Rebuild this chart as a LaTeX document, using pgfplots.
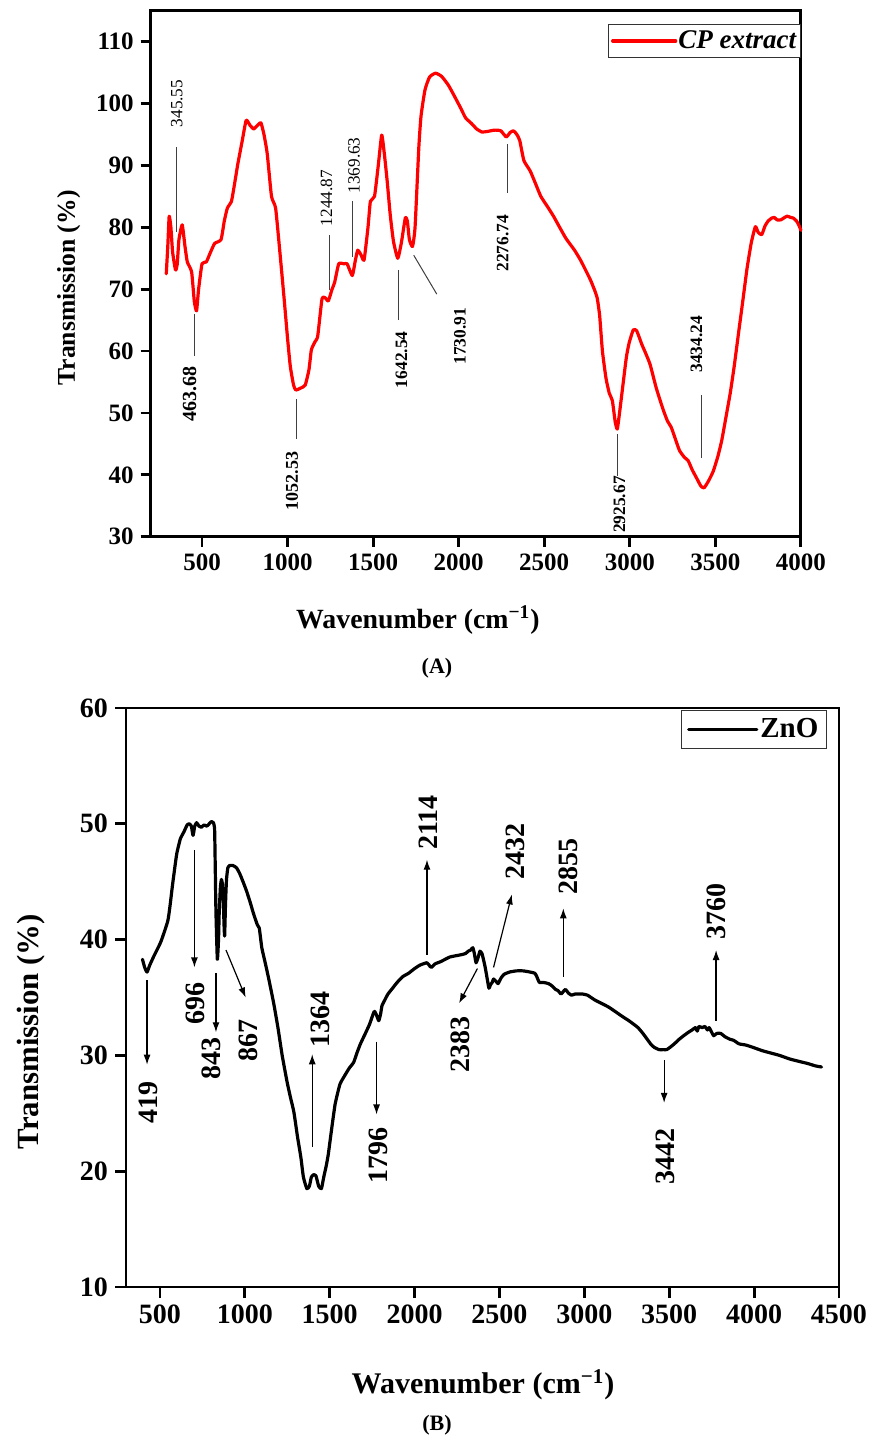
\documentclass[border=0pt]{standalone}
\usepackage{fontspec}
\setmainfont{Liberation Serif}
\usepackage{pgfplots}
\pgfplotsset{compat=1.18}
\usetikzlibrary{arrows.meta}

% FTIR spectrum of the CP extract
\pgfplotstableread{
x y
291 72.5
300 77
308 81.8
318 80
328 76
345 73.1
355 74
365 78
384 80.4
400 77
414 74.4
439 72.8
455 68
468 66.5
480 70
500 74.1
525 74.4
550 76
574 77.4
611 78.0
630 81
648 83.1
672 84.2
690 87
709 90.2
735 94
758 97.3
780 96.5
802 95.9
825 96.5
844 96.9
862 95
881 91.9
906 85.0
930 83.1
955 76
980 68.4
1000 62
1016 57.5
1035 54.5
1048 53.7
1075 54
1103 54.5
1125 57
1139 60.2
1160 61.5
1176 62.4
1201 68.4
1220 68.6
1238 68.1
1260 70
1275 71.1
1299 74.1
1330 74.1
1348 74.1
1378 72.2
1395 74.5
1410 76.3
1430 75.5
1447 74.7
1470 80
1484 84.2
1508 85.0
1530 90
1550 94.9
1565 92
1582 87.5
1600 82
1619 77.7
1644 75.0
1665 77.5
1688 81.5
1700 81
1712 78
1730 76.9
1745 80
1767 92.9
1780 98
1803 102.2
1830 104.3
1865 104.9
1900 104.4
1939 103.0
1975 101.2
2013 99.2
2040 97.7
2074 96.8
2105 95.9
2136 95.4
2170 95.5
2209 95.7
2246 95.6
2278 94.6
2300 95.3
2320 95.6
2340 95
2357 94.0
2381 90.8
2418 89.1
2450 87
2480 85.0
2520 83.3
2554 81.8
2590 80
2627 78.2
2677 76.3
2710 74.8
2738 73.3
2770 71.5
2795 69.8
2810 68.5
2824 65.7
2840 60
2861 55.6
2880 53.2
2898 52
2915 48.5
2927 47.4
2940 50
2959 54.3
2980 59
2996 61.3
3020 63.4
3040 63.3
3070 61.1
3095 59.5
3119 57.8
3155 54
3193 50.7
3220 48.7
3242 47.7
3270 45.5
3291 43.9
3320 42.8
3341 42.3
3365 40.8
3390 39.5
3415 38.2
3434 37.9
3460 39
3488 40.6
3515 43
3537 45.5
3560 49
3587 53.2
3610 57.5
3636 63.0
3660 68
3685 73.3
3710 77.5
3734 80.1
3750 79.2
3771 78.8
3790 80.2
3808 81.0
3830 81.5
3845 81.6
3860 81.2
3882 81.2
3900 81.5
3919 81.8
3940 81.6
3955 81.5
3975 81
3992 80.1
4000 79.5
}\cpdata

% FTIR spectrum of the ZnO nanoparticles
\pgfplotstableread{
x y
397 38.3
410 37.6
424 37.2
440 37.8
465 38.6
505 39.8
546 41.6
560 43
573 44.6
590 46.5
600 47.5
620 48.7
641 49.3
660 49.9
673 50.0
685 49.8
695 49.0
705 49.8
716 50.1
730 49.8
743 49.7
760 49.9
776 49.8
790 50.0
803 50.2
815 50.1
822 49.5
826 46
830 42.3
838 38.3
845 40
849 42.3
856 44.5
862 45.2
868 44.8
873 43.6
877 41.5
881 40.3
886 43
892 45.2
900 46.2
911 46.4
930 46.4
951 46.2
970 45.7
992 44.9
1010 44.2
1032 43.2
1050 42.3
1073 41.3
1085 41
1100 39.3
1120 38
1141 36.6
1170 34.5
1195 32.4
1220 30
1249 27.7
1270 26.3
1289 25.1
1310 23
1330 21.2
1345 19.5
1365 18.5
1380 18.7
1392 19.5
1405 19.7
1419 19.6
1435 18.7
1451 18.5
1465 19.5
1480 20.5
1492 21.5
1510 23.5
1532 25.8
1560 27.5
1586 28.2
1615 28.9
1641 29.4
1660 30.2
1681 31.0
1710 31.9
1735 32.7
1762 33.8
1775 33.5
1789 33.0
1800 33.6
1808 34.3
1825 34.8
1843 35.3
1870 35.8
1897 36.3
1930 36.8
1965 37.1
2000 37.5
2032 37.8
2073 38.0
2090 37.7
2100 37.6
2120 37.9
2154 38.1
2180 38.3
2208 38.5
2240 38.6
2276 38.7
2300 38.8
2316 39.0
2330 39.1
2343 39.3
2352 38.8
2362 38.0
2375 38.5
2385 39.0
2397 38.8
2407 38.2
2416 37.6
2428 36.6
2438 35.8
2447 36.1
2457 36.3
2465 36.6
2473 36.5
2485 36.3
2492 36.2
2510 36.7
2527 37.0
2559 37.2
2600 37.3
2640 37.3
2680 37.2
2708 37.1
2720 36.8
2735 36.3
2760 36.3
2789 36.2
2810 36.0
2830 35.7
2845 35.6
2862 35.3
2875 35.5
2889 35.7
2905 35.4
2924 35.2
2945 35.3
2965 35.3
2990 35.3
3019 35.2
3060 34.8
3100 34.5
3140 34.2
3181 33.8
3220 33.4
3262 33.0
3290 32.7
3316 32.4
3345 31.9
3370 31.4
3390 31.0
3411 30.7
3440 30.5
3465 30.5
3485 30.5
3505 30.7
3530 31.0
3559 31.4
3585 31.7
3613 32.0
3635 32.2
3654 32.4
3665 32.1
3675 32.5
3694 32.4
3710 32.5
3725 32.2
3735 32.4
3750 32.0
3762 31.7
3780 31.9
3803 31.9
3830 31.6
3857 31.4
3880 31.3
3911 31.0
3950 30.9
3992 30.7
4050 30.4
4100 30.2
4150 30.0
4208 29.7
4260 29.5
4316 29.3
4360 29.1
4397 29.0
}\znodata

\pgfplotsset{
  ftir/.style={
    scale only axis, anchor=south west, enlargelimits=false, clip=false,
    axis line style={line width=1.4pt},
    tick align=outside, xtick pos=bottom, ytick pos=left,
    major tick style={line width=1.4pt, black},
    /pgf/number format/assume math mode=true,
    /pgf/number format/1000 sep={},
    legend cell align=left,
  },
  spectrum/.style={line width=1.6pt, smooth, tension=0.3, line join=round, line cap=round},
}

\begin{document}
\begin{tikzpicture}
\useasboundingbox (0,0) rectangle (436.5pt,-720.5pt);

% ---------------- (A) CP extract ----------------
\begin{axis}[ftir,
  at={(75.35pt,-268.35pt)}, width=325.1pt, height=263pt,
  xmin=200, xmax=4000, ymin=30, ymax=115,
  xtick={500,1000,...,4000}, ytick={30,40,...,110},
  major tick length=5pt,
  ticklabel style={font=\bfseries\fontsize{12.5}{13}\selectfont},
  xlabel={Wavenumber (cm\textsuperscript{−1})},
  ylabel={Transmission (\%)},
  xlabel style={at={(axis description cs:0.411,-0.158)}, anchor=center,
    font=\bfseries\fontsize{13.9}{15}\selectfont},
  ylabel style={at={(axis description cs:-0.126,0.473)}, anchor=center,
    font=\bfseries\fontsize{12.8}{14}\selectfont},
  legend style={at={(1,0.975)}, anchor=north east, draw=black!80,
    line width=0.5pt, inner xsep=1.5pt, inner ysep=2.5pt,
    font=\bfseries\itshape\fontsize{13.5}{14}\selectfont,
    nodes={inner sep=0.6pt}},
  legend image code/.code={\draw[#1, line width=1.6pt] (0pt,0pt) -- (31.5pt,0pt);},
]
\addplot[red, spectrum] table[x=x, y=y] {\cpdata};
\addlegendentry{CP extract}

\begin{scope}[black!75, line width=0.5pt]
  \draw (axis cs:352,79.3) -- (axis cs:352,92.9);
  \draw (axis cs:456,59.2) -- (axis cs:456,66.0);
  \draw (axis cs:1053,45.8) -- (axis cs:1053,52.3);
  \draw (axis cs:1243,69.8) -- (axis cs:1243,78.8);
  \draw (axis cs:1378,75.2) -- (axis cs:1378,84.2);
  \draw (axis cs:1646,65.0) -- (axis cs:1646,73.1);
  \draw (axis cs:1737,75.5) -- (axis cs:1872,69.2);
  \draw (axis cs:2283,85.6) -- (axis cs:2283,93.5);
  \draw (axis cs:2930,39.8) -- (axis cs:2930,46.6);
  \draw (axis cs:3422,42.8) -- (axis cs:3422,52.9);
\end{scope}
\begin{scope}[every node/.style={rotate=90, anchor=center, inner sep=0pt,
    font=\fontsize{8.6}{9}\selectfont}]
  \node at (axis cs:352,100.0) {345.55};
  \node[font=\bfseries\fontsize{10}{10}\selectfont] at (axis cs:428,53.0) {463.68};
  \node[font=\bfseries\fontsize{9}{10}\selectfont] at (axis cs:1026,39.0) {1052.53};
  \node at (axis cs:1228,84.7) {1244.87};
  \node at (axis cs:1388,90.0) {1369.63};
  \node[font=\bfseries\fontsize{8.7}{10}\selectfont] at (axis cs:1665,58.6) {1642.54};
  \node[font=\bfseries\fontsize{8.7}{10}\selectfont] at (axis cs:2007,62.4) {1730.91};
  \node[font=\bfseries\fontsize{8.7}{10}\selectfont] at (axis cs:2258,77.4) {2276.74};
  \node[font=\bfseries\fontsize{8.7}{10}\selectfont] at (axis cs:2940,35.2) {2925.67};
  \node[font=\bfseries\fontsize{8.7}{10}\selectfont] at (axis cs:3390,61.1) {3434.24};
\end{scope}
\end{axis}
\node[font=\bfseries\fontsize{11}{12}\selectfont] at (218.5pt,-334pt) {(A)};

% ---------------- (B) ZnO ----------------
\begin{axis}[ftir,
  at={(63pt,-643.5pt)}, width=356.5pt, height=289.5pt,
  xmin=300, xmax=4500, ymin=10, ymax=60,
  xtick={500,1000,...,4500}, ytick={10,20,...,60},
  major tick length=5.5pt,
  ticklabel style={font=\bfseries\fontsize{14}{15}\selectfont},
  xlabel={Wavenumber (cm\textsuperscript{−1})},
  ylabel={Transmission (\%)},
  xlabel style={at={(axis description cs:0.5007,-0.169)}, anchor=center,
    font=\bfseries\fontsize{15}{16}\selectfont},
  ylabel style={at={(axis description cs:-0.133,0.441)}, anchor=center,
    font=\bfseries\fontsize{15.4}{16}\selectfont},
  legend style={at={(0.983,0.9965)}, anchor=north east, draw=black!80,
    line width=0.5pt, inner xsep=3pt, inner ysep=3pt,
    font=\bfseries\fontsize{14.5}{15}\selectfont,
    nodes={inner sep=1pt}},
  legend image code/.code={\draw[#1, line width=1.6pt] (0pt,0pt) -- (34pt,0pt);},
]
\addplot[black, spectrum] table[x=x, y=y] {\znodata};
\addlegendentry{ZnO}

\begin{scope}[black, line width=0.6pt, -{Latex[length=5pt,width=3.5pt]}]
  \draw (axis cs:424,36.5) -- (axis cs:424,29.2);
  \draw (axis cs:703,47.7) -- (axis cs:703,37.6);
  \draw (axis cs:830,37.1) -- (axis cs:830,32.0);
  \draw (axis cs:889,39.1) -- (axis cs:1005,35.0);
  \draw (axis cs:1397,22.1) -- (axis cs:1397,30.1);
  \draw (axis cs:1776,31.2) -- (axis cs:1776,24.9);
  \draw (axis cs:2073,38.7) -- (axis cs:2073,46.9);
  \draw (axis cs:2465,37.6) -- (axis cs:2573,43.9);
  \draw (axis cs:2370,37.5) -- (axis cs:2262,34.5);
  \draw (axis cs:2876,36.8) -- (axis cs:2876,42.7);
  \draw (axis cs:3470,29.6) -- (axis cs:3470,25.9);
  \draw (axis cs:3776,33.0) -- (axis cs:3776,39.1);
\end{scope}
\begin{scope}[every node/.style={rotate=90, anchor=center, inner sep=0pt,
    font=\bfseries\fontsize{14}{15}\selectfont}]
  \node at (axis cs:432,25.9) {419};
  \node at (axis cs:708,34.5) {696};
  \node at (axis cs:803,29.7) {843};
  \node at (axis cs:1019,31.3) {867};
  \node at (axis cs:1443,33.1) {1364};
  \node at (axis cs:1789,21.4) {1796};
  \node at (axis cs:2078,50.1) {2114};
  \node at (axis cs:2592,47.6) {2432};
  \node at (axis cs:2268,30.9) {2383};
  \node at (axis cs:2906,46.3) {2855};
  \node at (axis cs:3478,21.3) {3442};
  \node at (axis cs:3776,42.4) {3760};
\end{scope}
\end{axis}
\node[font=\bfseries\fontsize{11}{12}\selectfont] at (218.5pt,-712.5pt) {(B)};
\end{tikzpicture}
\end{document}
